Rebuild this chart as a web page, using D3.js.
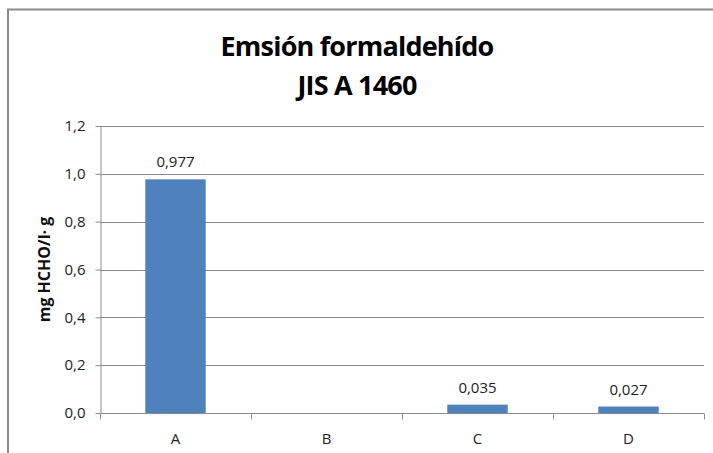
<!DOCTYPE html>
<html>
<head>
<meta charset="utf-8">
<script src="https://cdn.jsdelivr.net/npm/d3@7"></script>
<style>
  body { margin: 0; background: #fff; }
  svg { display: block; font-family: "Open Sans", "Noto Sans", sans-serif; }
  .grid line { stroke: #8c8c8c; stroke-width: 1; }
  .axis path, .axis line { stroke: #8c8c8c; }
</style>
</head>
<body>
<script>
//chart values
var categories = ["A", "B", "C", "D"];
var values = [0.977, 0, 0.035, 0.027];
var valueLabels = ["0,977", "", "0,035", "0,027"];
var yTicks = [0, 0.2, 0.4, 0.6, 0.8, 1.0, 1.2];
var titleLines = ["Emsión formaldehído", "JIS A 1460"];
var yTitle = "mg HCHO/l· g";

var width = 713, height = 453;
var margin = {left: 100, right: 9, top: 126, bottom: 40};
var labelSize = 15;

var svg = d3.select("body").append("svg")
    .attr("width", width)
    .attr("height", height);

//chart frame (cropped at right and bottom)
svg.append("path")
    .attr("d", "M8,453 V9.5 H713")
    .attr("fill", "none")
    .attr("stroke", "#8a8a8a")
    .attr("stroke-width", 2);

var x = d3.scaleBand()
    .domain(categories)
    .range([margin.left, width - margin.right])
    .paddingInner(0.6)
    .paddingOuter(0.3);

var y = d3.scaleLinear()
    .domain([0, 1.2])
    .range([413, margin.top]);

var fmt = function(d){ return d3.format(".1f")(d).replace(".", ","); };

//gridlines
svg.append("g")
    .attr("class", "grid")
    .selectAll("line")
    .data(yTicks.slice(1))
    .enter()
    .append("line")
    .attr("x1", margin.left)
    .attr("x2", width - margin.right)
    .attr("y1", function(d){ return Math.round(y(d)) + 0.5; })
    .attr("y2", function(d){ return Math.round(y(d)) + 0.5; });

//bars
svg.selectAll(".bar")
    .data(values)
    .enter()
    .append("rect")
    .attr("class", "bar")
    .attr("x", function(d, i){ return x(categories[i]); })
    .attr("width", x.bandwidth())
    .attr("y", function(d){ return y(d); })
    .attr("height", function(d){ return y(0) - y(d); })
    .attr("fill", "#4f81bd");

//value labels
svg.selectAll(".val")
    .data(values)
    .enter()
    .append("text")
    .attr("class", "val")
    .attr("x", function(d, i){ return x(categories[i]) + x.bandwidth() / 2; })
    .attr("y", function(d){ return y(d) - 12; })
    .attr("text-anchor", "middle")
    .attr("font-size", labelSize)
    .attr("fill", "#222")
    .text(function(d, i){ return valueLabels[i]; });

//y axis
var yAxisG = svg.append("g")
    .attr("class", "axis")
    .attr("transform", "translate(" + (margin.left + 0.5) + ",0)")
    .call(d3.axisLeft(y).tickValues(yTicks).tickFormat(fmt).tickSizeInner(5).tickSizeOuter(0).tickPadding(10));
yAxisG.attr("font-family", null).attr("font-size", labelSize);
yAxisG.selectAll("text").attr("fill", "#222");

//x axis with boundary ticks
var xAxisG = svg.append("g")
    .attr("class", "axis")
    .attr("transform", "translate(0," + (Math.round(y(0)) + 0.5) + ")");
xAxisG.append("line")
    .attr("x1", margin.left)
    .attr("x2", width - margin.right)
    .attr("stroke", "#8c8c8c");
var bounds = d3.range(categories.length + 1).map(function(i){
    return margin.left + i * (width - margin.left - margin.right) / categories.length;
});
xAxisG.selectAll(".btick")
    .data(bounds)
    .enter()
    .append("line")
    .attr("x1", function(d){ return Math.round(d) + 0.5; })
    .attr("x2", function(d){ return Math.round(d) + 0.5; })
    .attr("y1", 0)
    .attr("y2", 6)
    .attr("stroke", "#8c8c8c");
xAxisG.selectAll(".cat")
    .data(categories)
    .enter()
    .append("text")
    .attr("x", function(d){ return x(d) + x.bandwidth() / 2; })
    .attr("y", 30)
    .attr("text-anchor", "middle")
    .attr("font-size", labelSize)
    .attr("fill", "#222")
    .text(function(d){ return d; });

//title
svg.append("g")
    .selectAll("text")
    .data(titleLines)
    .enter()
    .append("text")
    .attr("x", 357)
    .attr("y", function(d, i){ return 56 + i * 39; })
    .attr("text-anchor", "middle")
    .attr("font-size", 27)
    .attr("font-weight", "bold")
    .attr("letter-spacing", -0.8)
    .text(function(d){ return d; });

//y axis title
svg.append("text")
    .attr("transform", "translate(50," + y(0.6) + ") rotate(-90)")
    .attr("text-anchor", "middle")
    .attr("font-size", 16)
    .attr("font-weight", "bold")
    .attr("fill", "#111")
    .text(yTitle);
</script>
</body>
</html>
